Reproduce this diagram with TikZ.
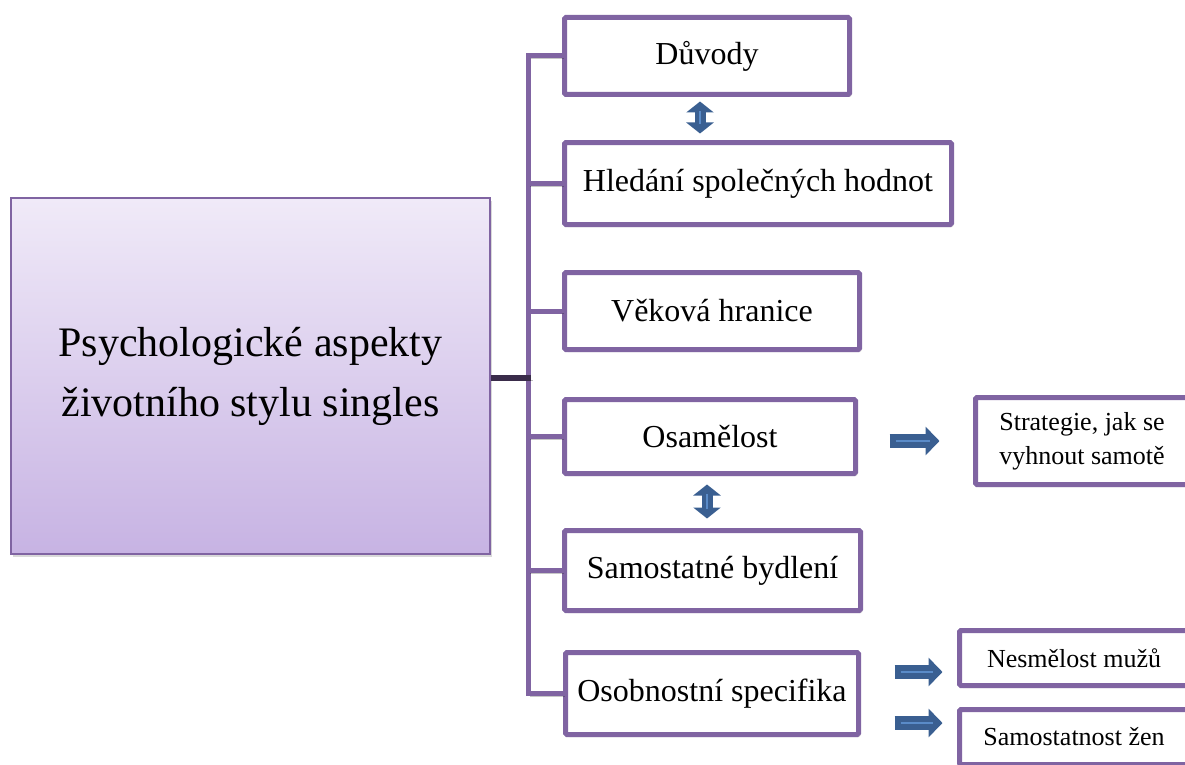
\documentclass[tikz,border=0pt]{standalone}
\usepackage{fontspec}
\setmainfont{Liberation Serif}
\usetikzlibrary{arrows.meta,shadows,calc}
\definecolor{boxpurple}{HTML}{8064A2}
\definecolor{darkconn}{HTML}{3A2C4A}
\definecolor{arrowblue}{HTML}{3A5F91}
\definecolor{stripeblue}{HTML}{5A8BC8}
\definecolor{topfill}{HTML}{F0EAF8}
\definecolor{botfill}{HTML}{C7B3E3}
\tikzset{
  box/.style={draw=boxpurple, line width=5pt, fill=white, rounded corners=1.5pt,
    inner sep=0pt, align=center, font=\fontsize{32}{38}\selectfont,
    drop shadow={shadow xshift=2pt, shadow yshift=-2.5pt, opacity=.3}},
  smallbox/.style={box, font=\fontsize{26}{34}\selectfont},
  mainbox/.style={draw=boxpurple, line width=2pt, top color=topfill, bottom color=botfill,
    inner sep=0pt, align=center, font=\fontsize{42}{60}\selectfont,
    drop shadow={shadow xshift=2pt, shadow yshift=-3pt, opacity=.3}},
  trunkline/.style={draw=boxpurple, line width=5pt,
    preaction={draw=black, opacity=.22, transform canvas={shift={(2pt,-2.5pt)}}}},
  mainline/.style={draw=darkconn, line width=5.5pt,
    preaction={draw=black, opacity=.25, transform canvas={shift={(2pt,-2.5pt)}}}},
  blockarr/.style={draw=arrowblue, line width=14pt, -{Triangle[width=28pt,length=14pt]}},
  dblarr/.style={draw=arrowblue, line width=11pt,
    {Triangle[width=27pt,length=11pt]}-{Triangle[width=27pt,length=11pt]}},
  stripe/.style={draw=stripeblue, line width=2.5pt, arrows=-},
}
\begin{document}
\begin{tikzpicture}[x=1pt, y=-1pt]
\useasboundingbox (0,0) rectangle (1185,765);
\clip (0,0) rectangle (1185,765);

% main box
\node[mainbox, minimum width=479pt, minimum height=356pt] (main) at (250.5,376)
  {Psychologické aspekty\\životního stylu singles};

% branch boxes
\node[box, minimum width=285pt, minimum height=77pt] (duvody)  at (707,56)    {Důvody};
\node[box, minimum width=387pt, minimum height=82pt] (hledani) at (758,183.5) {Hledání společných hodnot};
\node[box, minimum width=295pt, minimum height=77pt] (vekova)  at (712,311)   {Věková hranice};
\node[box, minimum width=291pt, minimum height=74pt] (osam)    at (710,436.5) {Osamělost};
\node[box, minimum width=296pt, minimum height=80pt] (bydleni) at (712.5,570.5) {Samostatné bydlení};
\node[box, minimum width=293pt, minimum height=82pt] (osob)    at (712,693.5) {Osobnostní specifika};

% right boxes
\node[smallbox, minimum width=213pt, minimum height=87pt] (strat)  at (1082,441) {Strategie, jak se\\vyhnout samotě};
\node[smallbox, minimum width=229pt, minimum height=55pt] (nesm)   at (1074,658) {Nesmělost mužů};
\node[smallbox, minimum width=229pt, minimum height=55pt] (samost) at (1074,737) {Samostatnost žen};

% helper coordinates
\coordinate (tr) at (528,0);
\coordinate (d1) at (700,0);
\coordinate (d2) at (707,0);
\coordinate (r0) at (0,378);
\coordinate (r1) at (0,672);
\coordinate (r2) at (0,723);

% trunk and branches
\draw[trunkline] (duvody.west) -- (duvody.west -| tr) -- (osob.west -| tr) -- (osob.west);
\draw[trunkline] (hledani.west) -- (hledani.west -| tr);
\draw[trunkline] (vekova.west) -- (vekova.west -| tr);
\draw[trunkline] (osam.west) -- (osam.west -| tr);
\draw[trunkline] (bydleni.west) -- (bydleni.west -| tr);
\draw[mainline, shorten >=-2.5pt] (main.east |- r0) -- (tr |- r0);

% double arrows
\draw[dblarr, shorten <=4.5pt, shorten >=6.5pt] (duvody.south -| d1) -- (hledani.north -| d1);
\draw[stripe, shorten <=14pt, shorten >=16pt] (duvody.south -| d1) -- (hledani.north -| d1);
\draw[dblarr, shorten <=8.5pt, shorten >=9.5pt] (osam.south -| d2) -- (bydleni.north -| d2);
\draw[stripe, shorten <=18pt, shorten >=19pt] (osam.south -| d2) -- (bydleni.north -| d2);

% right arrows
\draw[blockarr, shorten <=31.5pt, shorten >=33.5pt] (osam.east |- strat.west) -- (strat.west);
\draw[stripe, shorten <=37.5pt, shorten >=43pt] (osam.east |- strat.west) -- (strat.west);
\draw[blockarr, shorten <=33.5pt, shorten >=14.5pt] (osob.east |- r1) -- (nesm.west |- r1);
\draw[stripe, shorten <=39.5pt, shorten >=24pt] (osob.east |- r1) -- (nesm.west |- r1);
\draw[blockarr, shorten <=33.5pt, shorten >=14.5pt] (osob.east |- r2) -- (samost.west |- r2);
\draw[stripe, shorten <=39.5pt, shorten >=24pt] (osob.east |- r2) -- (samost.west |- r2);
\end{tikzpicture}
\end{document}
